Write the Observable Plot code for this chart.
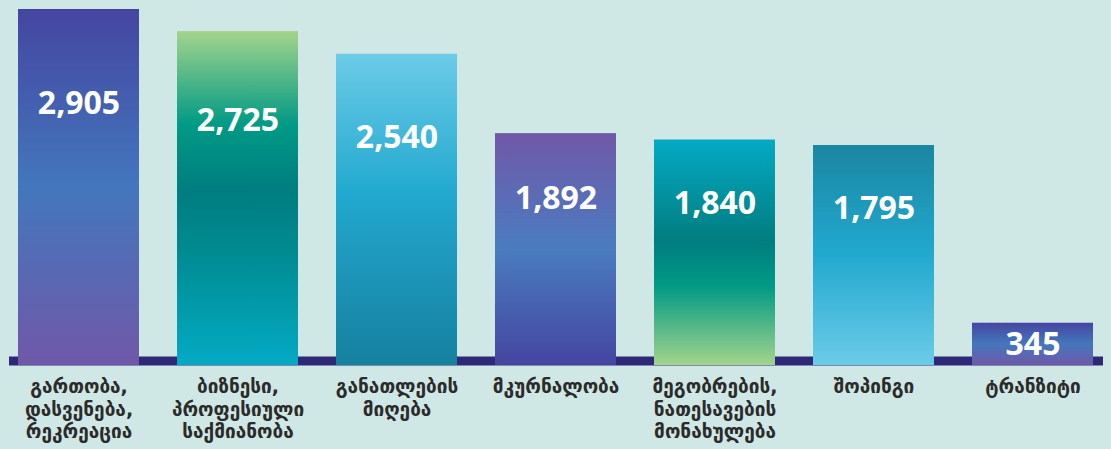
<!DOCTYPE html>
<html>
<head>
<meta charset="utf-8">
<script src="https://cdn.jsdelivr.net/npm/d3@7"></script>
<script src="https://cdn.jsdelivr.net/npm/@observablehq/plot@0.6"></script>
<style>
  html, body { margin: 0; padding: 0; background: #d0e8e5; }
  #chart svg { display: block; background: #d0e8e5; }
</style>
</head>
<body>
<div id="chart"></div>
<script>
const categories = [
  "გართობა,\nდასვენება,\nრეკრეაცია",
  "ბიზნესი,\nპროფესიული\nსაქმიანობა",
  "განათლების\nმიღება",
  "მკურნალობა",
  "მეგობრების,\nნათესავების\nმონახულება",
  "შოპინგი",
  "ტრანზიტი"
];
const values = [2905, 2725, 2540, 1892, 1840, 1795, 345];

// gradient styles (top -> bottom), one per bar
const gradients = [
  [[0, "#4545a0"], [0.5, "#4377bd"], [1, "#7058a8"]],
  [[0, "#a3d48c"], [0.28, "#019a85"], [0.48, "#007d80"], [0.65, "#008a90"], [1, "#04aac4"]],
  [[0, "#6ccbe8"], [0.45, "#22a9cf"], [0.62, "#1f9bc0"], [1, "#15819f"]],
  [[0, "#7058a8"], [0.5, "#4a7cc0"], [1, "#4545a0"]],
  [[0, "#04aac4"], [0.45, "#017d80"], [0.65, "#009a85"], [1, "#a3d48c"]],
  [[0, "#1a86a2"], [0.5, "#22a9cf"], [1, "#6ccbe8"]],
  [[0, "#4545a0"], [0.5, "#4377bd"], [1, "#7058a8"]]
];

const data = categories.map((c, i) => ({category: c, value: values[i], fill: `url(#bargrad${i})`}));
const fmt = d3.format(",");

const chart = Plot.plot({
  width: 1111,
  height: 449,
  marginLeft: 9,
  marginRight: 8,
  marginTop: 0,
  marginBottom: 84,
  style: {background: "#d0e8e5"},
  x: {domain: categories, range: [15, 1096], paddingInner: 0.2366, paddingOuter: 0, axis: null},
  y: {domain: [0, 2905], range: [365, 9], axis: null},
  color: {type: "identity"},
  marks: [
    Plot.ruleY([0], {stroke: "#2e2878", strokeWidth: 9, dy: -4.5}),
    Plot.barY(data, {x: "category", y: "value", fill: "fill"}),
    Plot.text(data, {
      x: "category", y: d => d.value - (100 + 0.23 * d.value), text: d => fmt(d.value),
      fill: "white", fontSize: 32, fontWeight: 700, fontFamily: "Open Sans",
      textAnchor: "middle", lineAnchor: "middle"
    }),
    Plot.text(data, {
      x: "category", y: 0, text: "category", dy: 12,
      lineAnchor: "top", lineHeight: 1.17,
      fill: "#2b2b2b", fontSize: 19, fontWeight: 700, fontFamily: "DejaVu Sans",
      textAnchor: "middle"
    })
  ]
});

const svg = d3.select(chart);
const defs = svg.insert("defs", ":first-child");
gradients.forEach((stops, i) => {
  const g = defs.append("linearGradient")
    .attr("id", `bargrad${i}`).attr("x1", 0).attr("y1", 0).attr("x2", 0).attr("y2", 1);
  stops.forEach(([o, c]) => g.append("stop").attr("offset", o).attr("stop-color", c));
});

document.getElementById("chart").appendChild(chart);
</script>
</body>
</html>
